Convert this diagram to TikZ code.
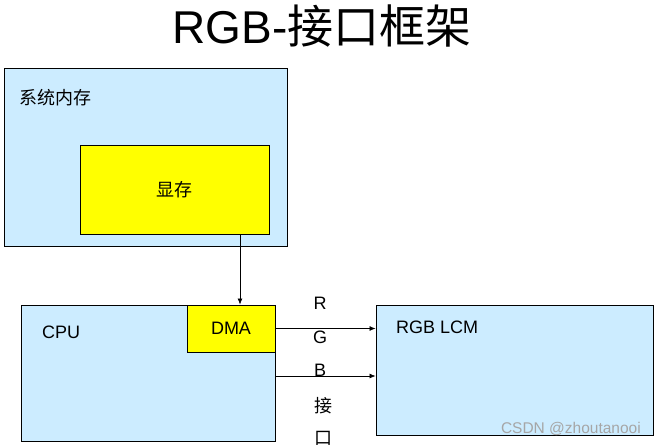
\documentclass[tikz,border=0pt]{standalone}
\usepackage{fontspec}
\setmainfont{Liberation Sans}
\newfontfamily\cjk{Noto Sans CJK SC}
\usetikzlibrary{arrows.meta}
\definecolor{memblue}{HTML}{CCECFF}
\definecolor{bufyellow}{HTML}{FFFF00}
\begin{document}
\begin{tikzpicture}[x=1pt,y=-1pt,
        box/.style={draw=black,line width=0.9pt,inner sep=0pt,fill=memblue},
        ybox/.style={box,fill=bufyellow},
        lbl/.style={font=\fontsize{18}{21}\selectfont,inner sep=0pt},
        arr/.style={-{Latex[length=6pt,width=5pt]},line width=0.7pt}]
                        \useasboundingbox (0,0) rectangle (655,445);
                        \node[box,minimum width=283pt,minimum height=178pt] (sysmem) at (145.5,157) {};
                        \node[ybox,minimum width=189pt,minimum height=89pt] (vram) at (174.5,189.5) {};
                        \node[box,minimum width=254pt,minimum height=136pt] (cpu) at (148,373) {};
                        \node[ybox,minimum width=88pt,minimum height=47pt] (dma) at (231,328.5) {};
                        \node[box,minimum width=277pt,minimum height=130pt] (lcm) at (514.5,370) {};
                        \node[font=\fontsize{46}{50}\selectfont] (title) at (322,26) {RGB-{\cjk 接口框架}};
                        \node[lbl,anchor=west] (sysmemtxt) at (19,98) {\cjk 系统内存};
                        \node[lbl] (vramtxt) at (vram) {\cjk 显存};
                        \node[lbl,anchor=west] (cputxt) at (42,332) {CPU};
                        \node[lbl] (dmatxt) at (dma) {DMA};
                        \node[lbl,anchor=west] (lcmtxt) at (396,327) {RGB LCM};
                        \node[lbl] (r) at (320,303) {R};
                        \node[lbl] (g) at (320,337) {G};
                        \node[lbl] (b) at (320,370) {B};
                        \node[lbl] (jie) at (323,406) {\cjk 接};
                        \node[lbl] (kou) at (323,438) {\cjk 口};
                        \node[font=\fontsize{15.5}{18}\selectfont,text=black!35,anchor=east,inner sep=0pt] (mark) at (641,429) {CSDN @zhoutanooi};
                        \coordinate (tap) at (240,270);
                        \coordinate (bus) at (320,376);
                        \draw[arr] (tap |- vram.south) -- (tap |- dma.north);
                        \draw[arr] (dma.east) -- (dma.east -| lcm.west);
                        \draw[arr] (bus -| cpu.east) -- (bus -| lcm.west);
                    \end{tikzpicture}
\end{document}
